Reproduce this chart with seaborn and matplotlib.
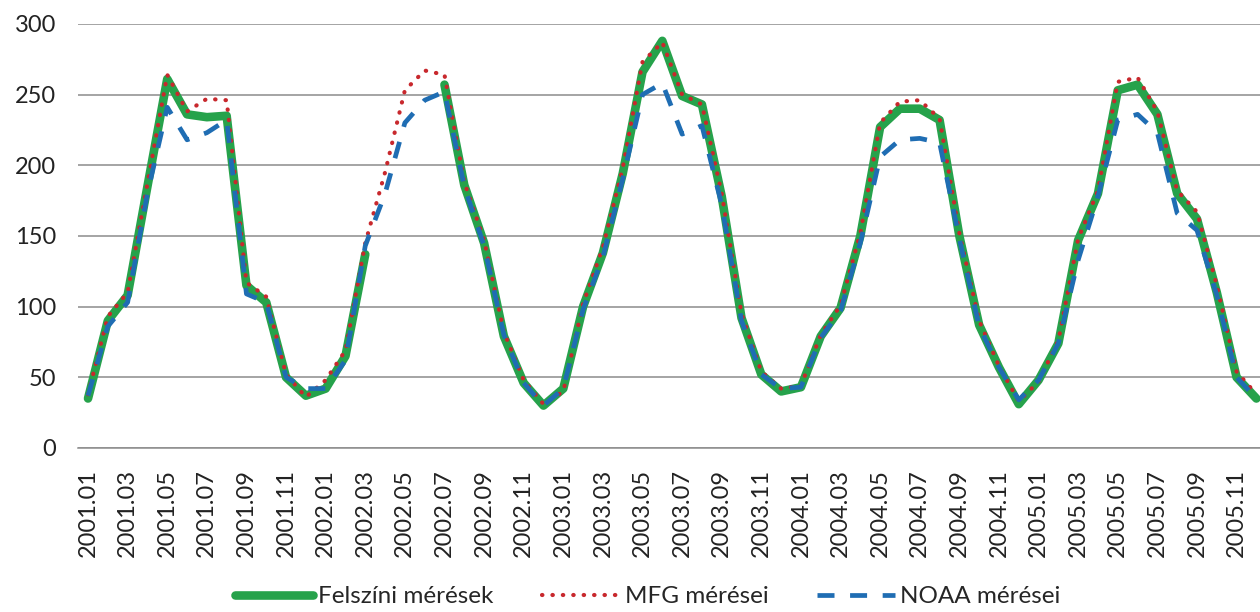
import numpy as np
import pandas as pd
import seaborn as sns
import matplotlib
matplotlib.use("Agg")
import matplotlib.pyplot as plt
from matplotlib.lines import Line2D

# months 2001.01 .. 2005.12
honapok = [f"{ev}.{ho:02d}" for ev in range(2001, 2006) for ho in range(1, 13)]

felszini = [35, 90, 108, 185, 261, 236, 234, 235, 115, 103, 50, 37, 42, 65, 137,
            np.nan, np.nan, np.nan, 257, 186, 145, 79, 46, 30,
            42, 100, 138, 194, 266, 288, 249, 243, 178, 92, 52, 40,
            43, 79, 99, 150, 227, 240, 240, 232, 150, 87, 57, 31,
            48, 74, 147, 180, 253, 257, 236, 180, 162, 110, 50, 35]
mfg = [38, 93, 110, 187, 264, 238, 247, 246, 117, 107, 52, 36,
       48, 69, 145, 195, 253, 267, 264, 188, 147, 82, 48, 31,
       40, 102, 142, 198, 273, 287, 250, 243, 180, 95, 54, 42,
       44, 80, 101, 152, 230, 245, 246, 233, 152, 90, 58, 33,
       47, 76, 148, 182, 259, 262, 238, 182, 167, 115, 54, 38]
noaa = [37, 86, 103, 180, 241, 218, 223, 232, 109, 103, 50, 42,
        42, 62, 143, 180, 230, 246, 252, 185, 143, 80, 46, 30,
        42, 98, 135, 190, 250, 258, 222, 228, 172, 90, 52, 42,
        43, 78, 97, 145, 206, 218, 219, 216, 148, 86, 57, 34,
        48, 74, 133, 178, 232, 236, 223, 166, 154, 108, 50, 35]

sorozat_nevek = ["Felszíni mérések", "MFG mérései", "NOAA mérései"]
zold, piros, kek = "#26a24b", "#c8282d", "#1f6db3"
pont = (0, (0.1, 2.4))
szagg = (0, (3.6, 3.3))

df = pd.DataFrame({"i": range(len(honapok)), "felszini": felszini,
                   "mfg": mfg, "noaa": noaa})
# split the surface series at its gap so the line breaks there
df["szakasz"] = df["felszini"].isna().cumsum()
zdf = df.dropna(subset=["felszini"])

sns.set_style("white")
plt.rcParams["font.family"] = ["Lato", "DejaVu Sans"]

fig = plt.figure(figsize=(12.6, 6.12), dpi=100)
ax = fig.add_axes([0.062, 0.268, 0.943, 0.693])

sns.lineplot(data=zdf, x="i", y="felszini", units="szakasz", estimator=None,
             color=zold, lw=6.2, solid_capstyle="round", solid_joinstyle="round",
             ax=ax, zorder=2)
sns.lineplot(data=df, x="i", y="mfg", color=piros, lw=3,
             linestyle=pont, dash_capstyle="round", ax=ax, zorder=3)
sns.lineplot(data=df, x="i", y="noaa", color=kek, lw=3.4,
             linestyle=szagg, dash_capstyle="butt", ax=ax, zorder=4)

ax.set_xlim(-0.5, len(honapok) - 0.5)
ax.set_ylim(0, 300)
ax.set_yticks(range(0, 301, 50))
ax.set_xticks(range(0, len(honapok), 2))
ax.set_xticklabels(honapok[::2], rotation=90, fontsize=17, color="#222222")
ax.tick_params(axis="y", labelsize=17, labelcolor="#222222", length=0, pad=16)
ax.tick_params(axis="x", length=0, pad=15)
ax.set_xlabel("")
ax.set_ylabel("")

ax.grid(axis="y", color="#8c8c8c", lw=1.1)
ax.grid(axis="x", visible=False)
for s in ["top", "right", "left"]:
    ax.spines[s].set_visible(False)
ax.spines["bottom"].set_color("#8c8c8c")
ax.spines["bottom"].set_linewidth(1.1)

kezelok = [Line2D([], [], color=zold, lw=6.2, solid_capstyle="round"),
           Line2D([], [], color=piros, lw=3, linestyle=pont, dash_capstyle="round"),
           Line2D([], [], color=kek, lw=3.4, linestyle=szagg)]
fig.legend(kezelok, sorozat_nevek, loc="center", bbox_to_anchor=(0.514, 0.025),
           ncol=3, frameon=False, fontsize=17.5, handlelength=3.2,
           handletextpad=0.2, columnspacing=2.0)

fig.savefig("out.png", dpi=100)
